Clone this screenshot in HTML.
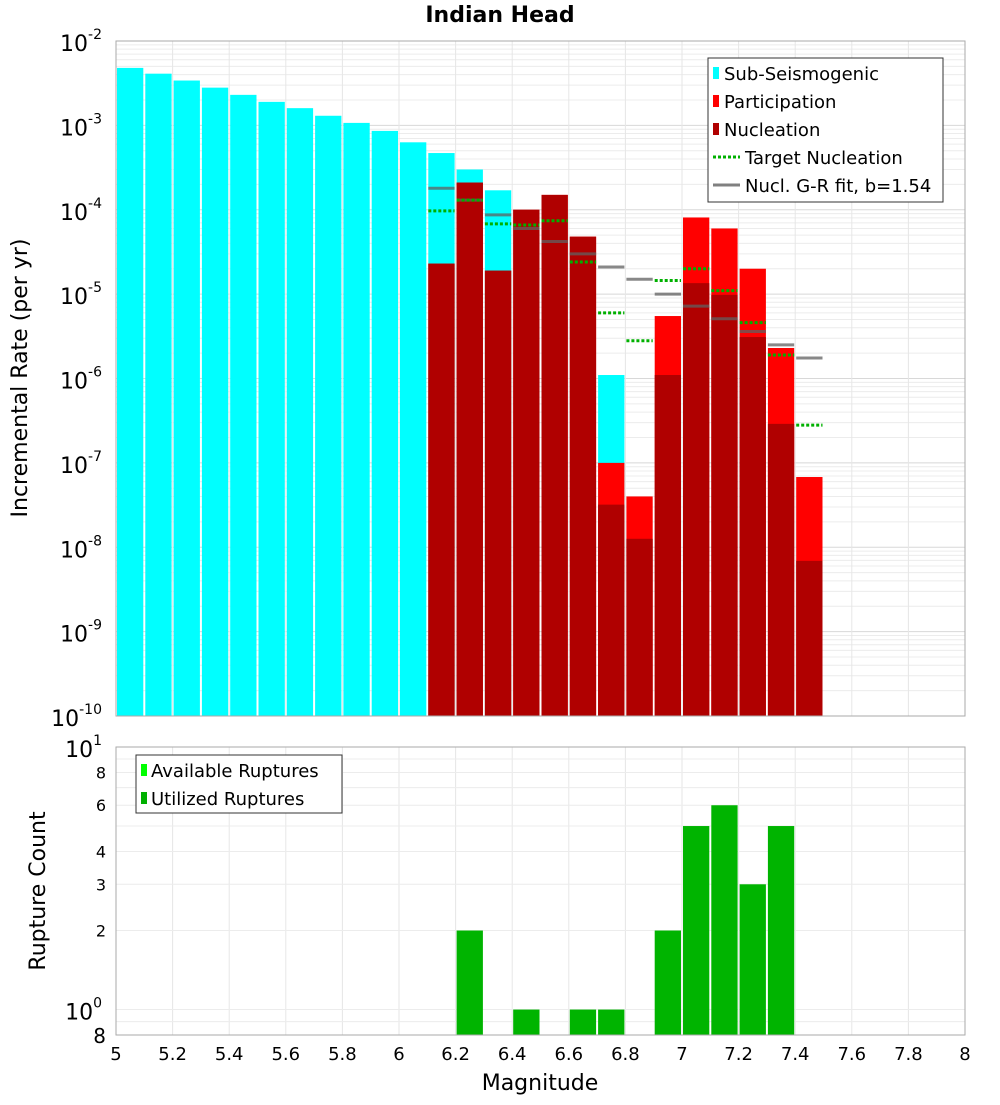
<!DOCTYPE html>
<html><head><meta charset="utf-8"><style>
body{margin:0;background:#fff;font-family:"Liberation Sans","DejaVu Sans",sans-serif;}
svg text{font-family:"DejaVu Sans","Liberation Sans",sans-serif;}
</style></head><body>
<svg id="c" width="1000" height="1100" xmlns="http://www.w3.org/2000/svg"></svg>
<script>
const bins=[5.05,5.15,5.25,5.35,5.45,5.55,5.65,5.75,5.85,5.95,6.05,6.15,6.25,6.35,6.45,6.55,6.65,6.75,6.85,6.95,7.05,7.15,7.25,7.35,7.45];
const subSeis=[4.8e-3,4.1e-3,3.4e-3,2.8e-3,2.3e-3,1.9e-3,1.6e-3,1.3e-3,1.07e-3,8.6e-4,6.3e-4,4.7e-4,3.0e-4,1.7e-4,0,0,0,1.1e-6,0,0,0,0,0,0,0];
const participation=[0,0,0,0,0,0,0,0,0,0,0,2.3e-5,2.1e-4,1.9e-5,1.0e-4,1.5e-4,4.8e-5,1.0e-7,4.0e-8,5.5e-6,8.1e-5,6.0e-5,2.0e-5,2.3e-6,6.8e-8];
const nucleation=[0,0,0,0,0,0,0,0,0,0,0,2.3e-5,2.1e-4,1.9e-5,1.0e-4,1.5e-4,4.8e-5,3.2e-8,1.26e-8,1.1e-6,1.35e-5,9.8e-6,3.1e-6,2.9e-7,6.9e-9];
const targetNucl=[0,0,0,0,0,0,0,0,0,0,0,9.7e-5,1.3e-4,6.8e-5,6.6e-5,7.4e-5,2.4e-5,6.0e-6,2.8e-6,1.45e-5,2.0e-5,1.1e-5,4.6e-6,1.9e-6,2.8e-7];
const grFit=[0,0,0,0,0,0,0,0,0,0,0,1.8e-4,1.3e-4,8.7e-5,6.0e-5,4.2e-5,3.0e-5,2.1e-5,1.5e-5,1.0e-5,7.2e-6,5.1e-6,3.6e-6,2.5e-6,1.75e-6];
const cntBins=[6.25,6.45,6.65,6.75,6.95,7.05,7.15,7.25,7.35];
const utilized=[2,1,1,1,2,5,6,3,5];
const xTicks=[5,5.2,5.4,5.6,5.8,6,6.2,6.4,6.6,6.8,7,7.2,7.4,7.6,7.8,8];

const S=document.getElementById('c'),NS='http://www.w3.org/2000/svg';
function el(t,a,txt){const e=document.createElementNS(NS,t);for(const k in a)e.setAttribute(k,a[k]);if(txt!==undefined)e.textContent=txt;S.appendChild(e);return e;}
const X0=116,X1=965;
const x=m=>X0+(m-5)/3*(X1-X0);
const T0=41,T1=716;
const yT=v=>T0+(-2-Math.log10(v))/8*(T1-T0);
const B0=747,B1=1035;
const yB=v=>B0+(1-Math.log10(v))/(1-Math.log10(0.8))*(B1-B0);
const bw=(X1-X0)/30;

// grids top
for(let d=-10;d<-2;d++)for(let k=1;k<10;k++){const y=yT(k*Math.pow(10,d));let g=el('line',{x1:X0,x2:X1,y1:y,y2:y,stroke:k==1?'#d8d8d8':'#ececec','stroke-width':1});}
for(const t of xTicks){let g=el('line',{x1:x(t),x2:x(t),y1:T0,y2:T1,stroke:'#e6e6e6'});
 let g2=el('line',{x1:x(t),x2:x(t),y1:B0,y2:B1,stroke:'#e6e6e6'});}
for(const v of [0.8,0.9,1,2,3,4,5,6,7,8,9,10]){const y=yB(v);let g=el('line',{x1:X0,x2:X1,y1:y,y2:y,stroke:'#ececec'});}

function bar(m,v,col,name,yf,base){if(!v)return;const y=yf(v);const r=el('rect',{x:x(m)-bw/2+1,y:y,width:bw-2,height:base-y,fill:col});}
bins.forEach((m,i)=>bar(m,subSeis[i],'#00ffff','sub-seismogenic-bar',yT,T1));
bins.forEach((m,i)=>bar(m,participation[i],'#ff0000','participation-bar',yT,T1));
bins.forEach((m,i)=>bar(m,nucleation[i],'#b00000','nucleation-bar',yT,T1));
bins.forEach((m,i)=>{if(!grFit[i])return;const y=yT(grFit[i]);const l=el('line',{x1:x(m)-bw/2+1,x2:x(m)+bw/2-1,y1:y,y2:y,stroke:'#606060','stroke-opacity':0.75,'stroke-width':3});});
bins.forEach((m,i)=>{if(!targetNucl[i])return;const y=yT(targetNucl[i]);const l=el('line',{x1:x(m)-bw/2+1,x2:x(m)+bw/2-1,y1:y,y2:y,stroke:'#00b000','stroke-width':3,'stroke-dasharray':'3,2'});});
cntBins.forEach((m,i)=>bar(m,utilized[i],'#00b400','utilized-ruptures-bar',yB,B1));

let f1=el('rect',{x:X0,y:T0,width:X1-X0,height:T1-T0,fill:'none',stroke:'#aaa'});
let f2=el('rect',{x:X0,y:B0,width:X1-X0,height:B1-B0,fill:'none',stroke:'#aaa'});

// y ticks top
for(let d=-10;d<=-2;d++){const y=yT(Math.pow(10,d));const t=el('text',{x:102,y:y+10,'font-size':22,'text-anchor':'end',fill:'#000'});
 const a=document.createElementNS(NS,'tspan');a.textContent='10';t.appendChild(a);const b=document.createElementNS(NS,'tspan');b.setAttribute('dy',-12);b.setAttribute('font-size',14);b.textContent=String(d);t.appendChild(b);}
// bottom y ticks
[[10,'10','1'],[1,'10','0']].forEach(([v,a1,e])=>{const y=yB(v);const t=el('text',{x:102,y:y+10,'font-size':22,'text-anchor':'end'});const a=document.createElementNS(NS,'tspan');a.textContent=a1;t.appendChild(a);const b=document.createElementNS(NS,'tspan');b.setAttribute('dy',-12);b.setAttribute('font-size',14);b.textContent=e;t.appendChild(b);});
[8,6,4,3,2].forEach(v=>{const t=el('text',{x:106,y:yB(v)+6,'font-size':16,'text-anchor':'end'},String(v));});
{const t=el('text',{x:106,y:yB(0.8)+8,'font-size':20,'text-anchor':'end'},'8');}
xTicks.forEach(v=>{const t=el('text',{x:x(v),y:1060,'font-size':18,'text-anchor':'middle'},String(v));});

let tt=el('text',{x:500,y:22,'font-size':22,'font-weight':'bold','text-anchor':'middle'},'Indian Head');
let xl=el('text',{x:540,y:1090,'font-size':22,'text-anchor':'middle'},'Magnitude');
let yl=el('text',{x:0,y:0,'font-size':22,'text-anchor':'middle',transform:'translate(27,378) rotate(-90)'},'Incremental Rate (per yr)');
let yl2=el('text',{x:0,y:0,'font-size':22,'text-anchor':'middle',transform:'translate(45,891) rotate(-90)'},'Rupture Count');

// legends
let lg=el('rect',{x:708,y:58,width:235,height:144,fill:'#fff',stroke:'#333'});
[['Sub-Seismogenic','#00ffff','box'],['Participation','#ff0000','box'],['Nucleation','#b00000','box'],['Target Nucleation','#00b000','dot'],['Nucl. G-R fit, b=1.54','#808080','line']].forEach((r,i)=>{const y=73+i*28;
 if(r[2]=='box'){const s=el('rect',{x:713,y:y-6,width:6,height:12,fill:r[1]});}
 else{const s=el('line',{x1:713,x2:740,y1:y,y2:y,stroke:r[1],'stroke-width':3,'stroke-dasharray':r[2]=='dot'?'3,2':''});}
 const t=el('text',{x:r[2]=='box'?724:745,y:y+7,'font-size':18},r[0]);});
let lg2=el('rect',{x:136,y:755,width:206,height:58,fill:'#fff',stroke:'#333'});
[['Available Ruptures','#00ff00'],['Utilized Ruptures','#00b000']].forEach((r,i)=>{const y=770+i*28;const s=el('rect',{x:141,y:y-6,width:6,height:12,fill:r[1]});
 const t=el('text',{x:151,y:y+7,'font-size':18},r[0]);});
</script>
</body></html>
